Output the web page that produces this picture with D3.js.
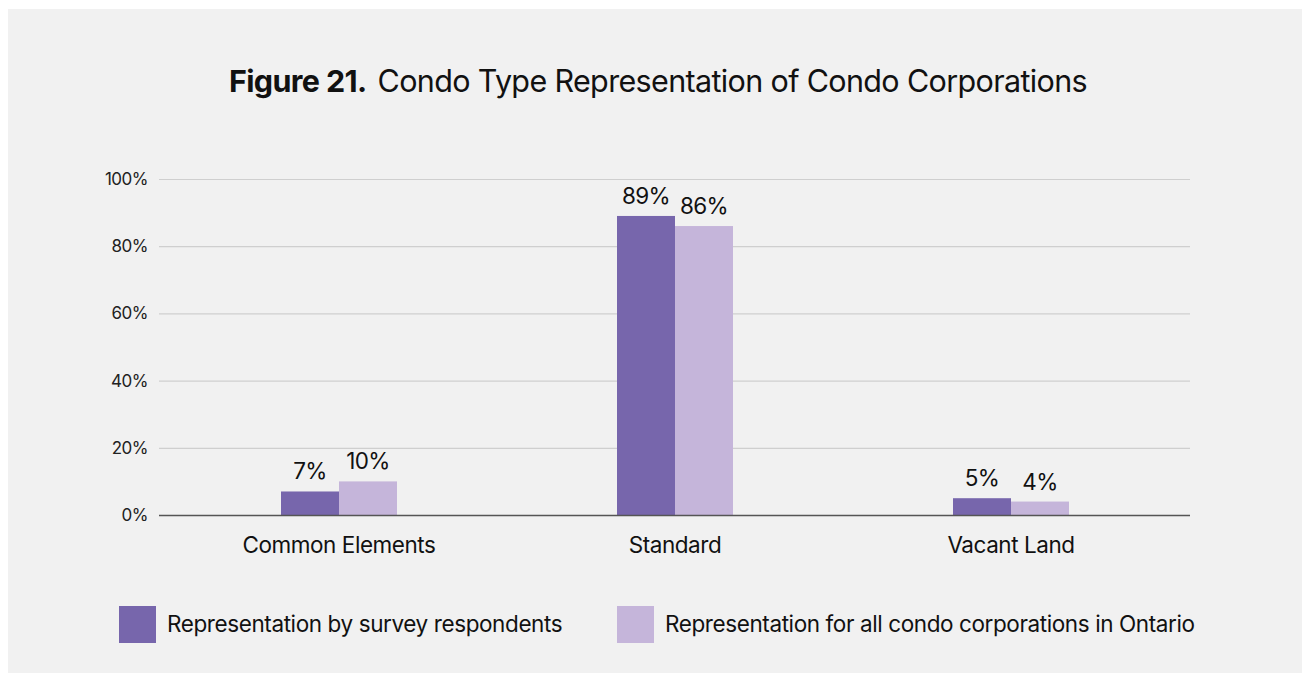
<!DOCTYPE html>
<html><head><meta charset="utf-8">
<script src="https://cdn.jsdelivr.net/npm/d3@7"></script>
<style>
html,body{margin:0;padding:0;background:#fff;}
svg{display:block;font-family:Inter,"Liberation Sans",sans-serif;}
</style></head>
<body>
<svg id="chart" width="1302" height="673"></svg>
<script>
const categories = ["Common Elements", "Standard", "Vacant Land"];
const seriesNames = ["Representation by survey respondents", "Representation for all condo corporations in Ontario"];
const surveyValues = [7, 89, 5];
const ontarioValues = [10, 86, 4];
const yTicks = [0, 20, 40, 60, 80, 100];
const colors = ["#7766ac", "#c5b5da"];

const svg = d3.select("#chart");
svg.append("rect").attr("x", 8).attr("y", 9).attr("width", 1294).attr("height", 664).attr("fill", "#f1f1f1");

const title = svg.append("text").attr("x", 658).attr("y", 92).attr("text-anchor", "middle")
  .attr("font-size", 30.5).attr("fill", "#111").attr("letter-spacing", -0.65);
title.append("tspan").attr("font-weight", 700).text("Figure 21.");
title.append("tspan").attr("dx", 11).attr("font-weight", 400).text("Condo Type Representation of Condo Corporations");

const y = d3.scaleLinear().domain([0, 100]).range([515, 179]);
const x = d3.scaleBand().domain(categories).range([171, 1179]);
const xs = d3.scaleBand().domain([0, 1]).range([0, 116]);
const gridX0 = 159, gridX1 = 1190;

const gy = svg.append("g").attr("transform", `translate(${gridX0},0)`)
  .call(d3.axisLeft(y).tickValues(yTicks).tickFormat(d => d + "%").tickSize(-(gridX1 - gridX0)).tickPadding(11));
gy.select(".domain").remove();
gy.selectAll(".tick line").attr("stroke", "#cfcfcf").attr("stroke-width", 1.2);
gy.selectAll(".tick text").attr("font-size", 17).attr("fill", "#222").attr("font-weight", 400).attr("letter-spacing", -0.5)
  .attr("font-family", "Inter, 'Liberation Sans', sans-serif");

const data = categories.map((c, i) => ({cat: c, vals: [surveyValues[i], ontarioValues[i]]}));
const groups = svg.append("g").selectAll("g").data(data).join("g")
  .attr("transform", d => `translate(${x(d.cat) + x.bandwidth() / 2 - 58},0)`);
groups.selectAll("rect").data(d => d.vals.map((v, k) => ({v, k}))).join("rect")
  .attr("x", d => xs(d.k)).attr("width", xs.bandwidth())
  .attr("y", d => y(d.v)).attr("height", d => y(0) - y(d.v))
  .attr("fill", d => colors[d.k]);
groups.selectAll("text").data(d => d.vals.map((v, k) => ({v, k}))).join("text")
  .attr("x", d => xs(d.k) + xs.bandwidth() / 2).attr("y", d => y(d.v) - 12)
  .attr("text-anchor", "middle").attr("font-size", 22.5).attr("font-weight", 400).attr("letter-spacing", -0.6).attr("fill", "#111")
  .text(d => d.v + "%");

const gx = svg.append("g").attr("transform", "translate(0,515)")
  .call(d3.axisBottom(x).tickSize(0).tickPadding(22));
gx.select(".domain").remove();
gx.selectAll(".tick text").attr("font-size", 22.5).attr("font-weight", 400).attr("letter-spacing", -0.45).attr("fill", "#111")
  .attr("font-family", "Inter, 'Liberation Sans', sans-serif");
svg.append("line").attr("x1", gridX0).attr("x2", gridX1).attr("y1", 515.5).attr("y2", 515.5)
  .attr("stroke", "#555").attr("stroke-width", 1.3);

const legendX = [119, 617];
const lg = svg.append("g").selectAll("g").data(seriesNames).join("g")
  .attr("transform", (d, i) => `translate(${legendX[i]},606)`);
lg.append("rect").attr("width", 37).attr("height", 37).attr("fill", (d, i) => colors[i]);
lg.append("text").attr("x", 48).attr("y", 26).attr("font-size", 22.5).attr("font-weight", 400).attr("fill", "#111").attr("letter-spacing", -0.4).text(d => d);
</script>
</body></html>
